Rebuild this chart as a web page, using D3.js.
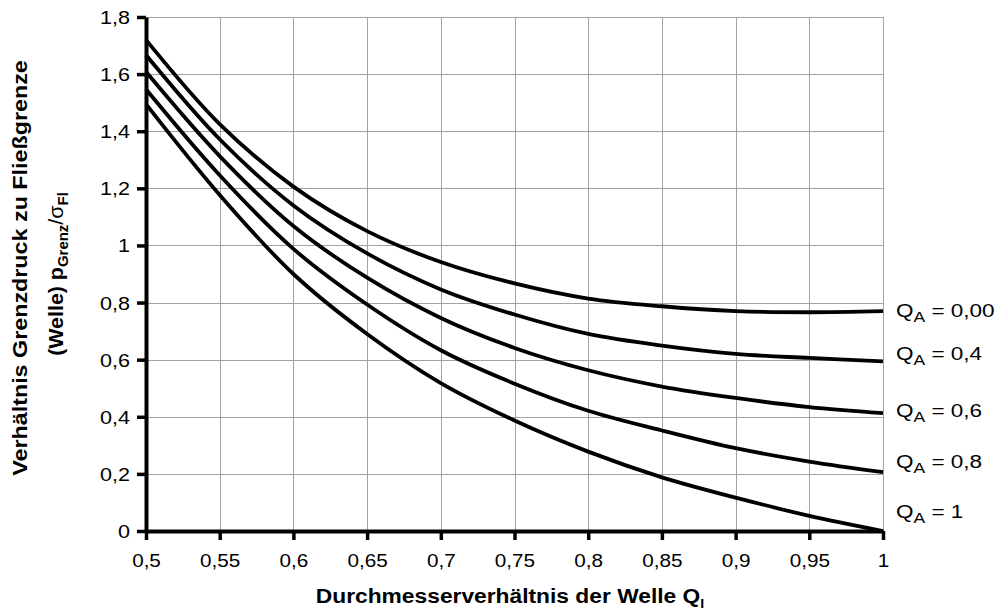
<!DOCTYPE html>
<html>
<head>
<meta charset="utf-8">
<script src="https://cdn.jsdelivr.net/npm/d3@7"></script>
<style>
  html, body { margin: 0; padding: 0; background: #fff; }
  svg { display: block; font-family: "Liberation Sans", Arial, sans-serif; }
</style>
</head>
<body>
<svg id="chart" width="1002" height="610"></svg>
<script>
// ---- data ----
const xValues = [0.5, 0.55, 0.6, 0.65, 0.7, 0.75, 0.8, 0.85, 0.9, 0.95, 1.0];
const seriesNames = ["0,00", "0,4", "0,6", "0,8", "1"];
const qa000 = [1.720, 1.425, 1.206, 1.050, 0.942, 0.867, 0.814, 0.787, 0.770, 0.766, 0.770];
const qa04  = [1.667, 1.372, 1.140, 0.972, 0.846, 0.758, 0.690, 0.649, 0.620, 0.606, 0.594];
const qa06  = [1.608, 1.313, 1.068, 0.887, 0.746, 0.641, 0.563, 0.506, 0.466, 0.434, 0.413];
const qa08  = [1.547, 1.246, 0.988, 0.793, 0.633, 0.516, 0.421, 0.352, 0.290, 0.243, 0.206];
const qa1   = [1.495, 1.177, 0.900, 0.690, 0.518, 0.387, 0.278, 0.188, 0.117, 0.053, 0.000];
const labelValues = [0.775, 0.625, 0.425, 0.246, 0.07];
const xTicks = [0.5, 0.55, 0.6, 0.65, 0.7, 0.75, 0.8, 0.85, 0.9, 0.95, 1.0];
const yTicks = [0, 0.2, 0.4, 0.6, 0.8, 1.0, 1.2, 1.4, 1.6, 1.8];

const series = [qa000, qa04, qa06, qa08, qa1];

// ---- layout ----
const svg = d3.select("#chart");
const L = 146, R = 883, T = 17, B = 531;
const x = d3.scaleLinear().domain([0.5, 1.0]).range([L, R]);
const y = d3.scaleLinear().domain([0, 1.8]).range([B, T]);
const fmt = d => (+d.toFixed(2)).toString().replace(".", ",");

// grid
const grid = svg.append("g").attr("stroke", "#a3a3a3").attr("stroke-width", 1).attr("shape-rendering", "crispEdges");
grid.selectAll("line.v").data(xTicks.slice(1)).join("line")
  .attr("x1", d => Math.round(x(d)) + 0.5).attr("x2", d => Math.round(x(d)) + 0.5)
  .attr("y1", T).attr("y2", B);
grid.selectAll("line.h").data(yTicks.slice(1)).join("line")
  .attr("y1", d => Math.round(y(d)) + 0.5).attr("y2", d => Math.round(y(d)) + 0.5)
  .attr("x1", L).attr("x2", R);

// curves
const line = d3.line().x((d, i) => x(xValues[i])).y(d => y(d)).curve(d3.curveCatmullRom.alpha(0.5));
svg.append("g").selectAll("path").data(series).join("path")
  .attr("d", d => line(d))
  .attr("fill", "none").attr("stroke", "#000").attr("stroke-width", 3.8)
  .attr("stroke-linejoin", "round");

// axes
const xAxis = svg.append("g").attr("transform", `translate(0,${B})`)
  .call(d3.axisBottom(x).tickValues(xTicks).tickFormat(fmt).tickSizeInner(9).tickSizeOuter(0).tickPadding(14));
const yAxis = svg.append("g").attr("transform", `translate(${L},0)`)
  .call(d3.axisLeft(y).tickValues(yTicks).tickFormat(fmt).tickSizeInner(9).tickSizeOuter(0).tickPadding(6));
[xAxis, yAxis].forEach(a => {
  a.select(".domain").attr("stroke", "#000").attr("stroke-width", 4);
  a.selectAll(".tick line").attr("stroke", "#000").attr("stroke-width", 3.5);
  a.selectAll(".tick text").attr("fill", "#000").attr("font-size", 18)
    .attr("font-family", "'Liberation Sans', Arial, sans-serif");
});
xAxis.selectAll(".tick text").attr("transform", "scale(1.15,1)");
yAxis.selectAll(".tick text").attr("dy", "0.36em").attr("x", 0)
  .attr("transform", "translate(-16,0) scale(1.2,1)");

// series labels
const lab = svg.append("g").attr("font-size", 18).attr("fill", "#000");
seriesNames.forEach((n, i) => {
  const t = lab.append("text")
    .attr("transform", `translate(896,${y(labelValues[i]) + 7}) scale(1.25,1)`);
  t.append("tspan").text("Q");
  t.append("tspan").attr("font-size", 14).attr("dy", 5).text("A");
  t.append("tspan").attr("dy", -5).text(" = " + n);
});

// axis titles
const xt = svg.append("text").attr("transform", "translate(510,603) scale(1.085,1)")
  .attr("text-anchor", "middle").attr("font-size", 21).attr("font-weight", "bold");
xt.append("tspan").text("Durchmesserverhältnis der Welle Q");
xt.append("tspan").attr("font-size", 13).attr("dy", 5).text("I");

svg.append("text").attr("transform", "translate(27,268) rotate(-90) scale(1.11,1)")
  .attr("text-anchor", "middle").attr("font-size", 21).attr("font-weight", "bold")
  .text("Verhältnis Grenzdruck zu Fließgrenze");
const yt2 = svg.append("text").attr("transform", "translate(63,274) rotate(-90) scale(1.07,1)")
  .attr("text-anchor", "middle").attr("font-size", 20).attr("font-weight", "bold");
yt2.append("tspan").text("(Welle) p");
yt2.append("tspan").attr("font-size", 14).attr("dy", 5).text("Grenz");
yt2.append("tspan").attr("dy", -5).attr("font-weight", "normal").text("/σ");
yt2.append("tspan").attr("font-size", 14).attr("dy", 5).text("Fl");
</script>
</body>
</html>
